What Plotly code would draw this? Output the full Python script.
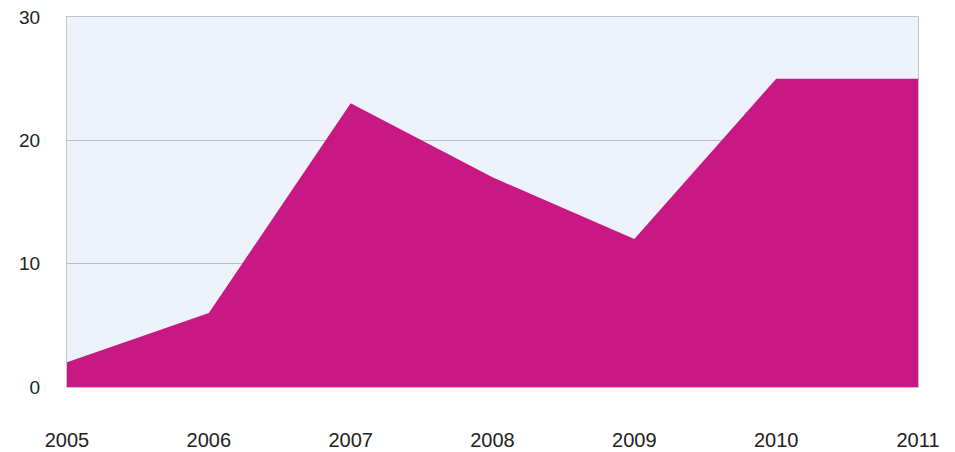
import plotly.graph_objects as go

# Yearly values shown as a filled area
years = [2005, 2006, 2007, 2008, 2009, 2010, 2011]
values = [2, 6, 23, 17, 12, 25, 25]
y_ticks = [0, 10, 20, 30]

fig = go.Figure()
fig.add_trace(go.Scatter(
    x=years,
    y=values,
    mode="lines",
    fill="tozeroy",
    fillcolor="#C71884",
    line=dict(color="#C71884", width=0),
    hoverinfo="x+y",
))

fig.update_layout(
    width=955,
    height=452,
    margin=dict(l=67, r=37, t=17, b=65),
    paper_bgcolor="white",
    plot_bgcolor="#EEF2FA",
    showlegend=False,
    font=dict(family="Liberation Sans, Arial, sans-serif", size=18, color="#222222"),
)
fig.update_xaxes(
    range=[years[0], years[-1]],
    tickmode="array",
    tickvals=years,
    ticktext=[str(y) for y in years],
    tickfont=dict(size=20),
    showgrid=False,
    zeroline=False,
    showline=True,
    linecolor="#C4C4C4",
    linewidth=1,
    mirror=True,
    ticks="",
    ticklabelstandoff=35,
    automargin=False,
)
fig.update_yaxes(
    range=[0, 30],
    tickmode="array",
    tickvals=y_ticks,
    tickfont=dict(size=19),
    showgrid=True,
    gridcolor="#BDBDBD",
    gridwidth=1,
    zeroline=False,
    showline=True,
    linecolor="#C4C4C4",
    linewidth=1,
    mirror=True,
    ticks="",
    ticklabelstandoff=22,
    automargin=False,
)

fig.write_html("out.html")
